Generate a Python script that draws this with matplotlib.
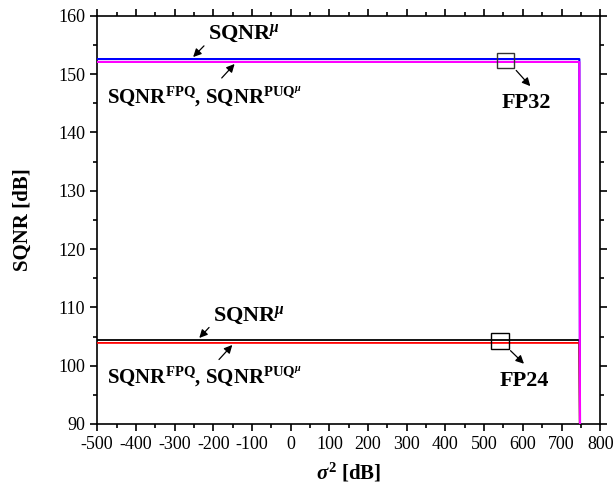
import numpy as np
import matplotlib.pyplot as plt
from matplotlib.ticker import MultipleLocator
from matplotlib.patches import Rectangle

plt.rcParams['font.family'] = 'Liberation Serif'
plt.rcParams['axes.unicode_minus'] = False
plt.rcParams['mathtext.fontset'] = 'custom'
plt.rcParams['mathtext.rm'] = 'Liberation Serif:bold'
plt.rcParams['mathtext.bf'] = 'Liberation Serif:bold'
plt.rcParams['mathtext.it'] = 'Liberation Serif:bold:italic'

# sigma^2 [dB] sample points (flat region then collapse)
sigma2 = [-500, 746, 748]
sqnr_mu_fp32 = [152.6, 152.6, 80]
sqnr_fpq_fp32 = [152.1, 152.1, 80]
sqnr_mu_fp24 = [104.4, 104.4, 80]
sqnr_fpq_fp24 = [103.9, 103.9, 80]

fig = plt.figure(figsize=(6.15, 4.97), dpi=100)
ax = fig.add_axes([0.158, 0.147, 0.818, 0.821])

ax.plot(sigma2, sqnr_mu_fp24, color='k', lw=1.3, zorder=3)
ax.plot(sigma2, sqnr_fpq_fp24, color='red', lw=1.3, zorder=3)
ax.plot(sigma2, sqnr_mu_fp32, color='blue', lw=1.5, zorder=4)
ax.plot(sigma2, sqnr_fpq_fp32, color='magenta', lw=1.5, zorder=5)

ax.set_xlim(-500, 800)
ax.set_ylim(90, 160)
ax.xaxis.set_major_locator(MultipleLocator(100))
ax.xaxis.set_minor_locator(MultipleLocator(50))
ax.yaxis.set_major_locator(MultipleLocator(10))
ax.yaxis.set_minor_locator(MultipleLocator(5))
ax.tick_params(which='both', direction='out', top=True, right=True, labelsize=13, width=1.2)
ax.tick_params(which='major', length=5)
ax.tick_params(which='minor', length=3)
for s in ax.spines.values():
    s.set_linewidth(1.2)

ax.set_xlabel(r'$\sigma^{2}$ [dB]', fontsize=15, fontweight='bold', labelpad=6)
ax.set_ylabel('SQNR [dB]', fontsize=15, fontweight='bold', labelpad=18)

ap = dict(arrowstyle='-|>', color='k', lw=0.9, mutation_scale=12)
lab_mu = r'SQNR$^{\mu}$'
lab_fpq = r'SQNR$^{\mathrm{FPQ}}$, SQNR$^{\mathrm{PUQ}^{\mu}}$'
fs = 16
fs2 = 15

# FP32 annotations
ax.annotate('', xy=(-257, 152.6), xytext=(-219, 155.2), arrowprops=ap)
ax.text(-214, 157.0, lab_mu, fontsize=fs, fontweight='bold', va='center', ha='left')
ax.annotate('', xy=(-140, 152.1), xytext=(-183, 149.0), arrowprops=ap)
ax.text(-475, 146.1, lab_fpq, fontsize=fs2, fontweight='bold', va='center', ha='left')

# FP24 annotations
ax.annotate('', xy=(-241, 104.4), xytext=(-206, 106.9), arrowprops=ap)
ax.text(-200, 108.6, lab_mu, fontsize=fs, fontweight='bold', va='center', ha='left')
ax.annotate('', xy=(-146, 103.9), xytext=(-190, 100.7), arrowprops=ap)
ax.text(-475, 98.0, lab_fpq, fontsize=fs2, fontweight='bold', va='center', ha='left')

# zoom boxes
ax.add_patch(Rectangle((534, 151.0), 44, 2.7, fill=False, ec='#333333', lw=1.0, zorder=6))
ax.annotate('', xy=(624, 147.6), xytext=(578, 151.0), arrowprops=ap)
ax.text(610, 145.0, 'FP32', fontsize=fs, fontweight='bold', ha='center', va='center')

ax.add_patch(Rectangle((518, 102.9), 45, 2.7, fill=False, ec='k', lw=1.0, zorder=6))
ax.annotate('', xy=(608, 100.0), xytext=(563, 102.9), arrowprops=ap)
ax.text(603, 97.3, 'FP24', fontsize=fs, fontweight='bold', ha='center', va='center')

fig.savefig('out.png', dpi=100)
